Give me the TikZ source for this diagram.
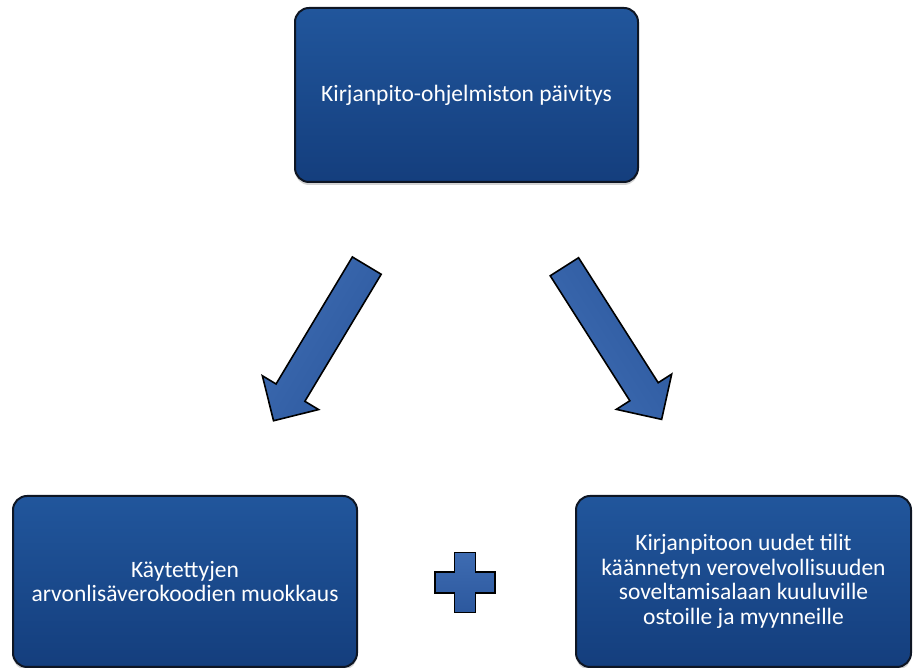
\documentclass[tikz,border=0pt]{standalone}
\usepackage{fontspec}
\setmainfont{Carlito}
\usetikzlibrary{shapes.arrows,shadows}

\definecolor{boxtop}{RGB}{33,86,156}
\definecolor{boxbot}{RGB}{20,62,125}
\definecolor{boxline}{RGB}{14,22,36}
\definecolor{arrowdark}{RGB}{44,88,158}
\definecolor{arrowlight}{RGB}{92,138,205}
\definecolor{arrowmid}{RGB}{62,108,178}

\tikzset{
    stepbox/.style={draw=boxline, line width=2pt, rounded corners=14pt,
        top color=boxtop, bottom color=boxbot, text=white, align=center,
        font=\fontsize{23.5}{24.5}\selectfont,
        drop shadow={shadow xshift=0pt, shadow yshift=-3pt, opacity=0.35}},
    bigarrow/.style={single arrow, draw=black, line width=1.6pt,
        top color=arrowdark, middle color=arrowlight, bottom color=arrowmid,
        rotate=#1, shading angle=#1,
        minimum width=64pt, single arrow head extend=16pt,
        inner xsep=0pt, inner ysep=16pt, minimum height=181pt},
    plusmark/.style={draw=black, line width=1.6pt,
        top color=arrowmid, middle color=arrowlight, bottom color=arrowdark}
}

\begin{document}
\begin{tikzpicture}[x=1pt, y=1pt]
        \useasboundingbox (0,0) rectangle (913,668);

        \node[stepbox, minimum width=343pt, minimum height=174pt] (update) at (466.5,573) {Kirjanpito-ohjelmiston päivitys};
        \node[stepbox, minimum width=344pt, minimum height=171pt] (codes) at (185,86.5) {Käytettyjen\\arvonlisäverokoodien muokkaus};
        \node[stepbox, minimum width=335pt, minimum height=171pt] (accounts) at (743.5,86.5) {Kirjanpitoon uudet tilit\\käännetyn verovelvollisuuden\\soveltamisalaan kuuluville\\ostoille ja myynneille};

        \node[bigarrow=239] (arrL) at (324.5,332) {};
        \node[bigarrow=-57.5] (arrR) at (608.5,332) {};

        \coordinate (plus) at (465,85.5);
        \draw[plusmark, shift={(plus)}] (-10.5,30) -- (10.5,30) -- (10.5,10.5) -- (30,10.5) -- (30,-10.5) -- (10.5,-10.5)
            -- (10.5,-30) -- (-10.5,-30) -- (-10.5,-10.5) -- (-30,-10.5) -- (-30,10.5) -- (-10.5,10.5) -- cycle;
    \end{tikzpicture}
\end{document}
